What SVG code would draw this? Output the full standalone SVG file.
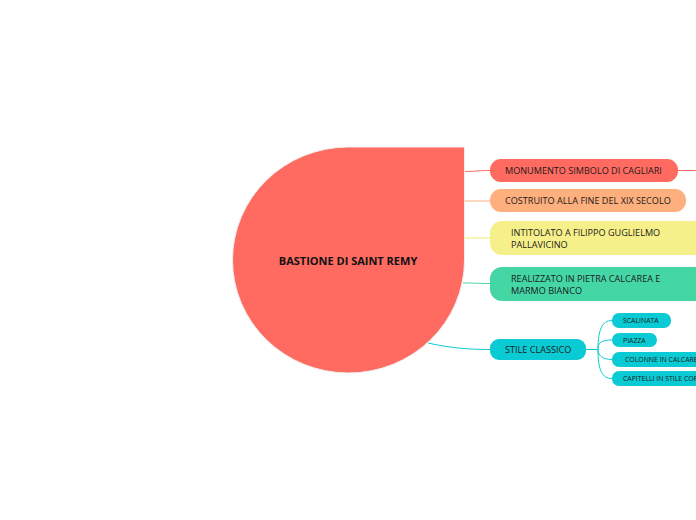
<svg xmlns="http://www.w3.org/2000/svg" width="696" height="520" viewBox="0 0 696 520">
<style>
.t{font-family:"Open Sans","Noto Sans",sans-serif;font-size:9.1px;fill:#1a1a1a}
.s{font-family:"Open Sans","Noto Sans",sans-serif;font-size:6.9px;fill:#1a1a1a}
.c{fill:none;stroke-width:1}
</style>
<rect width="696" height="520" fill="#fff"/>
<g id="connectors">
<path class="c" stroke="#FF6B61" d="M464 171.5 C475 171.5 478 170.5 490 170.5"/>
<path class="c" stroke="#FF6B61" d="M678 170.5 H696"/>
<path class="c" stroke="#FDAF7D" d="M464 201 H490"/>
<path class="c" stroke="#F4EC6E" d="M464 238 H490"/>
<path class="c" stroke="#45D6A6" d="M463 283 C475 283 478 283.5 490 283.5"/>
<path class="c" stroke="#0ACBD3" d="M428 343 C450 348 470 349.5 490 349.5"/>
<path class="c" stroke="#0ACBD3" d="M586 349.5 H598 M598 349.5 C598 330 602 320.5 612 320.5 M598 349.5 C598 342 602 340 612 340 M598 349.5 C598 355 602 359.5 612 359.5 M598 349.5 C598 370 602 378.5 612 378.5"/>
</g>
<g id="central">
<path d="M348.5 147 H464.5 V260 A116 113 0 1 1 348.5 147 Z" fill="#FF6B61" stroke="#eeeeee" stroke-width="1"/>
<text x="348" y="264.5" text-anchor="middle" class="t" style="font-weight:bold;font-size:11px;fill:#111">BASTIONE DI SAINT REMY</text>
</g>
<g id="n1">
<rect x="490" y="159" width="188" height="23" rx="11" fill="#FF6B61"/>
<text x="505" y="174" class="t">MONUMENTO SIMBOLO DI CAGLIARI</text>
</g>
<g id="n2">
<rect x="490" y="189" width="196" height="23" rx="11" fill="#FDAF7D"/>
<text x="505" y="204" class="t">COSTRUITO ALLA FINE DEL XIX SECOLO</text>
</g>
<g id="n3">
<rect x="490" y="221" width="230" height="34" rx="12" fill="#F6F08A"/>
<text x="511" y="236" class="t">INTITOLATO A FILIPPO GUGLIELMO</text>
<text x="511" y="248" class="t">PALLAVICINO</text>
</g>
<g id="n4">
<rect x="490" y="267" width="230" height="34" rx="12" fill="#45D6A6"/>
<text x="511" y="282" class="t">REALIZZATO IN PIETRA CALCAREA E</text>
<text x="511" y="294" class="t">MARMO BIANCO</text>
</g>
<g id="n5">
<rect x="490" y="339" width="96" height="21" rx="9" fill="#0ACBD3"/>
<text x="505" y="353" class="t">STILE CLASSICO</text>
</g>
<g id="s1">
<rect x="612" y="313" width="59" height="15" rx="7" fill="#0ACBD3"/>
<text x="623" y="323" class="s">SCALINATA</text>
</g>
<g id="s2">
<rect x="612" y="333" width="45" height="14" rx="7" fill="#0ACBD3"/>
<text x="623" y="342.5" class="s">PIAZZA</text>
</g>
<g id="s3">
<rect x="612" y="352" width="110" height="15" rx="7" fill="#0ACBD3"/>
<text x="625" y="362" class="s">COLONNE IN CALCAREO</text>
</g>
<g id="s4">
<rect x="612" y="371" width="110" height="15" rx="7" fill="#0ACBD3"/>
<text x="623" y="381" class="s">CAPITELLI IN STILE CORINZIO</text>
</g>
</svg>
